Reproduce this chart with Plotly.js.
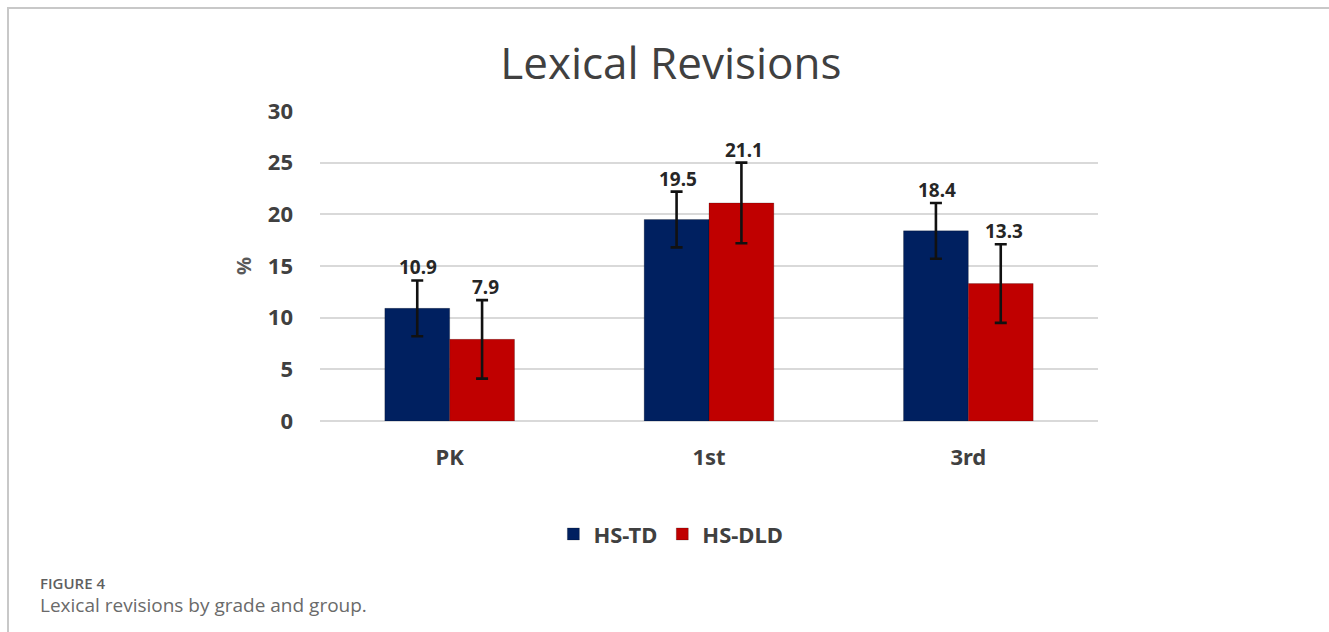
<!DOCTYPE html>
<html>
<head>
<meta charset="utf-8">
<script src="https://cdn.plot.ly/plotly-3.0.1.min.js"></script>
<style>
  html, body { margin: 0; padding: 0; background: #fff; }
  #frame { position: absolute; left: 7px; top: 7px; width: 1322px; height: 625px;
           border-left: 2px solid #c8c8c8; border-top: 2px solid #c8c8c8; pointer-events: none; }
  #chart { position: absolute; left: 0; top: 0; width: 1329px; height: 632px; }
</style>
</head>
<body>
<div id="chart"></div>
<div id="frame"></div>
<script>
const grades = ["PK", "1st", "3rd"];
const seriesNames = ["HS-TD", "HS-DLD"];
const tdValues = [10.9, 19.5, 18.4];
const dldValues = [7.9, 21.1, 13.3];
const tdErrors = [2.7, 2.7, 2.7];
const dldErrors = [3.8, 3.9, 3.8];
const yTicks = [0, 5, 10, 15, 20, 25, 30];

const colors = ["#002060", "#C00000"];
const values = [tdValues, dldValues];
const errors = [tdErrors, dldErrors];
const boldFont = "Noto Sans, Open Sans, sans-serif";

const traces = values.map((v, s) => ({
  type: "bar",
  name: seriesNames[s],
  x: grades,
  y: v,
  marker: { color: colors[s], line: { color: "rgba(0,0,0,0.35)", width: 0.6 } },
  error_y: { type: "data", array: errors[s], visible: true, color: "#111111", thickness: 2.6, width: 6 },
  hoverinfo: "x+y+name"
}));

const annotations = [];
values.forEach((v, s) => {
  v.forEach((val, i) => {
    annotations.push({
      x: i + (s === 0 ? -0.125 : 0.125),
      y: val + errors[s][i],
      xref: "x", yref: "y",
      text: val.toFixed(1),
      showarrow: false,
      yanchor: "middle",
      yshift: 13,
      xshift: s === 0 ? 1 : 3,
      font: { family: boldFont, size: 19, weight: 700, color: "#262626" }
    });
  });
});

annotations.push({
  xref: "paper", yref: "paper", x: -0.3625, y: -0.5235, xanchor: "left", yanchor: "middle",
  text: "FIGURE 4", showarrow: false,
  font: { family: "Open Sans, sans-serif", size: 15, weight: 600, color: "#5f5f5f" }
});
annotations.push({
  xref: "paper", yref: "paper", x: -0.3625, y: -0.594, xanchor: "left", yanchor: "middle",
  text: "Lexical revisions by grade and group.", showarrow: false,
  font: { family: "Open Sans, sans-serif", size: 19, color: "#6a6a6a" }
});

const layout = {
  width: 1329, height: 632,
  paper_bgcolor: "#ffffff", plot_bgcolor: "#ffffff",
  margin: { l: 320, r: 231, t: 111, b: 211 },
  title: {
    text: "Lexical Revisions",
    x: 0.451, xref: "paper", xanchor: "center",
    y: 0.9, yref: "container", yanchor: "middle",
    font: { family: "Open Sans, sans-serif", size: 44, color: "#404040" }
  },
  barmode: "group",
  bargap: 0.5,
  bargroupgap: 0,
  showlegend: true,
  legend: {
    orientation: "h", x: 0.451, xanchor: "center", y: -0.365, yanchor: "middle",
    font: { family: boldFont, size: 22, weight: 700, color: "#404040" },
    itemwidth: 30, traceorder: "normal"
  },
  xaxis: {
    type: "category",
    tickfont: { family: boldFont, size: 22, weight: 700, color: "#404040" },
    showgrid: false, zeroline: false, showline: false, ticks: "",
    ticklabelstandoff: 21
  },
  yaxis: {
    range: [0, 30], tickvals: yTicks, ticktext: yTicks.map(String),
    tickfont: { family: boldFont, size: 22, weight: 700, color: "#404040" },
    showgrid: true, gridcolor: "#d9d9d9", gridwidth: 1.5,
    zeroline: true, zerolinecolor: "#d9d9d9", zerolinewidth: 1.5,
    showline: false, ticks: "", ticklabelstandoff: 26,
    title: { text: "%", font: { family: boldFont, size: 20, weight: 700, color: "#595959" }, standoff: 10 },
    automargin: false
  },
  annotations: annotations
};

Plotly.newPlot("chart", traces, layout, { displayModeBar: false });
</script>
</body>
</html>
